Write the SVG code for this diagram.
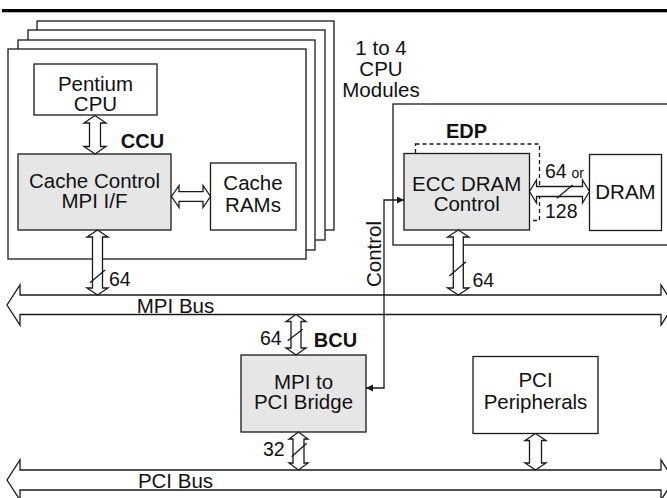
<svg xmlns="http://www.w3.org/2000/svg" width="667" height="498" viewBox="0 0 667 498">
<style>
.box{fill:#fff;stroke:#1a1a1a;stroke-width:1.3}
.gray{fill:#e6e6e6;stroke:#1a1a1a;stroke-width:1.3}
.dash{fill:none;stroke:#1a1a1a;stroke-width:1.3;stroke-dasharray:4 3}
.arr{fill:#fff;stroke:#1a1a1a;stroke-width:1.3;stroke-linejoin:miter}
.ln{fill:none;stroke:#1a1a1a;stroke-width:1.3}
text{font-family:"Liberation Sans",Arial,sans-serif;font-size:20.5px;fill:#111;text-anchor:middle}
.b{font-weight:bold;font-size:20px}
.n{font-size:19.5px;text-anchor:start}
.s{font-size:14px;text-anchor:start}
</style>
<defs>
<marker id="tri" markerUnits="userSpaceOnUse" markerWidth="8" markerHeight="8" refX="7" refY="3.5" orient="auto-start-reverse">
<path d="M0,0 L7,3.5 L0,7 z" fill="#1a1a1a"/>
</marker>
</defs>
<rect x="2" y="9" width="665" height="3.3" fill="#000"/>

<g id="cpu-modules">
<rect class="box" x="37" y="21" width="297" height="209"/>
<rect class="box" x="28" y="30" width="297" height="210"/>
<rect class="box" x="18" y="40" width="297" height="210"/>
<rect class="box" x="8" y="49" width="298" height="210"/>
</g>
<g id="modules-label">
<text x="381" y="55">1 to 4</text>
<text x="381" y="76">CPU</text>
<text x="381" y="97">Modules</text>
</g>
<g id="pentium">
<rect class="box" x="34" y="64" width="123" height="51"/>
<text x="95.5" y="91">Pentium</text>
<text x="95.5" y="111">CPU</text>
</g>
<g id="ccu">
<rect class="gray" x="18" y="154" width="153" height="76"/>
<text x="94.5" y="188">Cache Control</text>
<text x="94.5" y="208">MPI I/F</text>
<text class="b" x="142.5" y="148">CCU</text>
</g>
<g id="cache-rams">
<rect class="box" x="210.5" y="163" width="85.5" height="67"/>
<text x="253" y="190">Cache</text>
<text x="253" y="212">RAMs</text>
</g>
<g id="edp-board">
<rect class="box" x="393" y="104" width="280" height="141"/>
<text class="b" x="466.5" y="138">EDP</text>
</g>
<g id="edp">
<rect class="dash" x="415.5" y="144" width="124" height="76.5"/>
<rect class="gray" x="404" y="153.5" width="125.5" height="76.5"/>
<text x="466.7" y="190.5">ECC DRAM</text>
<text x="466.7" y="210.5">Control</text>
</g>
<g id="dram">
<rect class="box" x="589.5" y="154.5" width="72" height="76"/>
<text x="625.5" y="199">DRAM</text>
</g>
<g id="bridge">
<rect class="gray" x="241" y="355" width="125" height="77"/>
<text x="303.5" y="389">MPI to</text>
<text x="303.5" y="409">PCI Bridge</text>
<text class="b" x="335.5" y="347">BCU</text>
</g>
<g id="pci-peripherals">
<rect class="box" x="473" y="356.5" width="125" height="77"/>
<text x="535.5" y="387">PCI</text>
<text x="535.5" y="408.5">Peripherals</text>
</g>

<g id="connectors">
<path class="arr" d="M20,295 H661 V285 L674,305 L661,325 V314.5 H20 V325 L7,305 L20,285 Z"/>
<path class="arr" d="M20,470 H661 V460 L674,480 L661,500 V490 H20 V500 L7,480 L20,460 Z"/>
<!-- Pentium <-> CCU -->
<path class="arr" d="M95,115.5 L106,123 L100.5,123 V146.5 L106,146.5 L95,154 L84,146.5 L89.5,146.5 V123 L84,123 Z"/>
<!-- CCU <-> MPI -->
<path class="arr" d="M97.5,230 L108,237 L102.5,237 V288 L108,288 L97.5,295 L87,288 L92.5,288 V237 L87,237 Z"/>
<!-- CCU <-> RAMs -->
<path class="arr" d="M171.5,196.5 L179,185.5 L179,191.7 H203 V185.5 L210.5,196.5 L203,207.5 V201.3 H179 V207.5 Z"/>
<!-- ECC <-> MPI -->
<path class="arr" d="M458.3,230 L469,237 L463.3,237 V288 L469,288 L458.3,295 L447.6,288 L453.3,288 V237 L447.6,237 Z"/>
<!-- ECC <-> DRAM -->
<path class="arr" d="M529.5,191.5 L536.5,180 V186.5 H582.5 V180 L589.5,191.5 L582.5,203 V196.5 H536.5 V203 Z"/>
<!-- MPI <-> Bridge -->
<path class="arr" d="M296,314.5 L306,321.5 L301,321.5 V348 L306,348 L296,355 L286,348 L291,348 V321.5 L286,321.5 Z"/>
<!-- Bridge <-> PCI -->
<path class="arr" d="M298.5,432 L308,439 L304,439 V463 L308,463 L298.5,470 L289,463 L293,463 V439 L289,439 Z"/>
<!-- Peripherals <-> PCI -->
<path class="arr" d="M535.5,433.5 L546,440.5 L541.5,440.5 V463 L546,463 L535.5,470 L525,463 L529.5,463 V440.5 L525,440.5 Z"/>
<!-- width slashes -->
<path class="ln" d="M90,282.7 L105,270 M449.3,276 L466,261.7 M287.7,340.7 L302.7,329.3 M291.7,456.7 L306.7,443.3 M556.7,198.3 L572.7,185"/>
<!-- control -->
<path class="ln" d="M404,200 H384 V388 H366" marker-start="url(#tri)" marker-end="url(#tri)"/>
<text transform="translate(380.5,254) rotate(-90)">Control</text>
<text class="n" x="109" y="286">64</text>
<text class="n" x="472.5" y="286.5">64</text>
<text class="n" x="260" y="344.5">64</text>
<text class="n" x="263" y="456">32</text>
<text class="n" x="545" y="178.3">64</text>
<text class="s" x="571.5" y="178.3">or</text>
<text class="n" x="545" y="218.3">128</text>
<text x="175.5" y="313">MPI Bus</text>
<text x="175.5" y="488">PCI Bus</text>
</g>
</svg>
